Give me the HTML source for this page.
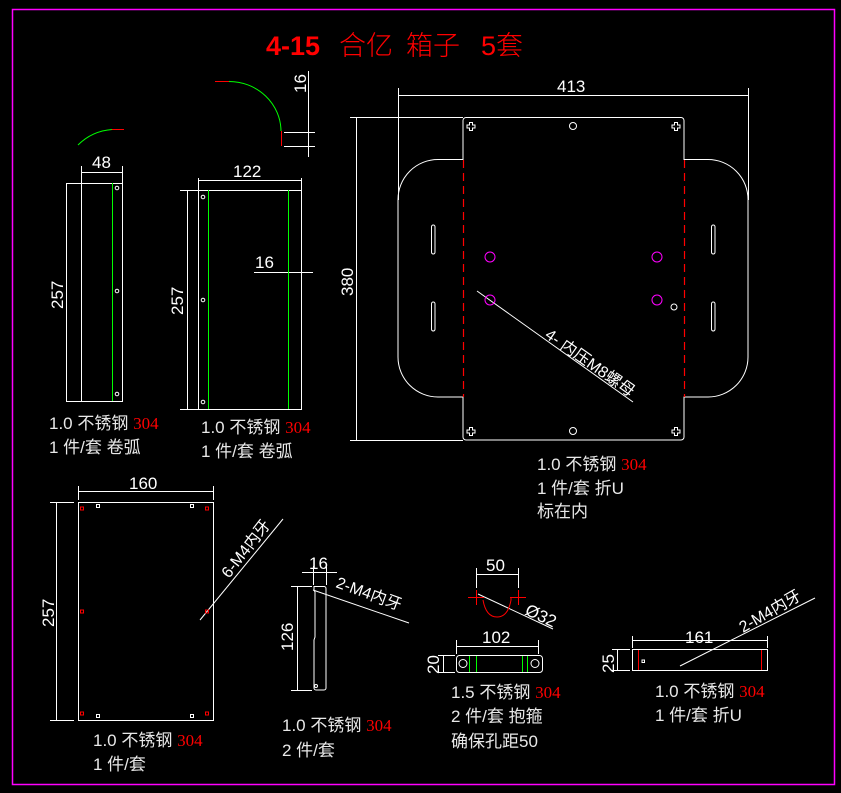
<!DOCTYPE html>
<html><head><meta charset="utf-8"><style>
html,body{margin:0;padding:0;background:#000;}
svg{display:block;}
text{font-family:"Liberation Sans","Noto Sans CJK SC",sans-serif;}
.d{fill:#fff;font-size:17px;}
.l{fill:#e8e8e8;font-size:17px;font-family:"Liberation Sans","Noto Sans CJK SC",sans-serif;}
.r{fill:#f00;font-family:"Liberation Serif",serif;}
</style></head><body>
<svg width="841" height="793" viewBox="0 0 841 793" xmlns="http://www.w3.org/2000/svg">
<rect x="0" y="0" width="841" height="793" fill="#000"/>
<rect x="12.5" y="9.5" width="822" height="775" fill="none" stroke="#f0f" stroke-width="1.5"/>
<g fill="#f00" font-size="27">
<text x="266" y="55" font-weight="bold">4-15</text>
<text x="339" y="55" font-family="Noto Sans CJK SC,sans-serif" font-weight="300">合亿</text>
<text x="406" y="55" font-family="Noto Sans CJK SC,sans-serif" font-weight="300">箱子</text>
<text x="481" y="55">5<tspan font-family="Noto Sans CJK SC,sans-serif" font-weight="300">套</tspan></text>
</g>

<g stroke="#fff" stroke-width="1" fill="none">
<rect x="81.5" y="183.5" width="41" height="218"/>
<line x1="66" y1="183.5" x2="81" y2="183.5"/><line x1="66" y1="401.5" x2="81" y2="401.5"/>
<line x1="66.5" y1="183" x2="66.5" y2="401"/>
<line x1="81.5" y1="166" x2="81.5" y2="183"/><line x1="122.5" y1="166" x2="122.5" y2="183"/>
<line x1="81" y1="172.5" x2="122" y2="172.5"/>
<circle cx="117" cy="188" r="1.8"/><circle cx="117" cy="291" r="1.8"/><circle cx="117" cy="394" r="1.8"/>
<rect x="198.5" y="190.5" width="103" height="219"/>
<line x1="180" y1="190.5" x2="198" y2="190.5"/><line x1="180" y1="409.5" x2="198" y2="409.5"/>
<line x1="187.5" y1="190" x2="187.5" y2="409"/>
<line x1="198.5" y1="178" x2="198.5" y2="190"/><line x1="301.5" y1="178" x2="301.5" y2="190"/>
<line x1="198" y1="180.5" x2="301" y2="180.5"/>
<line x1="254" y1="272.5" x2="313" y2="272.5"/>
<circle cx="203" cy="197" r="1.8"/><circle cx="203" cy="300" r="1.8"/><circle cx="203" cy="402" r="1.8"/>
<line x1="308.5" y1="71" x2="308.5" y2="157"/>
<line x1="284" y1="132.5" x2="315" y2="132.5"/><line x1="284" y1="146.5" x2="315" y2="146.5"/>
<path d="M466,117.5 H681 a3,3 0 0 1 3,3 V159.5 H708 a40,40 0 0 1 40,40 V357 a40,40 0 0 1 -40,40 H684 V437 a3,3 0 0 1 -3,3 H466 a3,3 0 0 1 -3,-3 V397 H438 a40,40 0 0 1 -40,-40 V199.5 a40,40 0 0 1 40,-40 H463 V120.5 a3,3 0 0 1 3,-3 Z"/>
<rect x="431.5" y="225" width="3.5" height="29" rx="1.7"/><rect x="431.5" y="302" width="3.5" height="29" rx="1.7"/>
<rect x="711.5" y="225" width="3.5" height="29" rx="1.7"/><rect x="711.5" y="302" width="3.5" height="29" rx="1.7"/>
<circle cx="573" cy="126" r="3.5"/><circle cx="573" cy="431" r="3.5"/><circle cx="674" cy="307" r="3"/>
<path d="M469.5,122.5 h3 v2.5 h2.5 v3 h-2.5 v2.5 h-3 v-2.5 h-2.5 v-3 h2.5 z"/>
<path d="M674.5,122.5 h3 v2.5 h2.5 v3 h-2.5 v2.5 h-3 v-2.5 h-2.5 v-3 h2.5 z"/>
<path d="M469.5,427.5 h3 v2.5 h2.5 v3 h-2.5 v2.5 h-3 v-2.5 h-2.5 v-3 h2.5 z"/>
<path d="M674.5,427.5 h3 v2.5 h2.5 v3 h-2.5 v2.5 h-3 v-2.5 h-2.5 v-3 h2.5 z"/>
<line x1="398.5" y1="88" x2="398.5" y2="200"/><line x1="748.5" y1="88" x2="748.5" y2="200"/>
<line x1="398" y1="95.5" x2="748" y2="95.5"/>
<line x1="350" y1="117.5" x2="463" y2="117.5"/><line x1="350" y1="440.5" x2="463" y2="440.5"/>
<line x1="356.5" y1="117" x2="356.5" y2="440"/>
<line x1="477" y1="291" x2="633" y2="402"/>
<rect x="78.5" y="502.5" width="135" height="218"/>
<line x1="50" y1="502.5" x2="74" y2="502.5"/><line x1="50" y1="720.5" x2="74" y2="720.5"/>
<line x1="56.5" y1="502" x2="56.5" y2="720"/>
<line x1="78.5" y1="486" x2="78.5" y2="500"/><line x1="213.5" y1="486" x2="213.5" y2="500"/>
<line x1="78" y1="491.5" x2="213" y2="491.5"/>
<rect x="96.5" y="504.5" width="3" height="3"/><rect x="190.5" y="504.5" width="3" height="3"/>
<rect x="96.5" y="714.5" width="3" height="3"/><rect x="190.5" y="714.5" width="3" height="3"/>
<line x1="200" y1="620" x2="283" y2="519"/>
<path d="M314,586.5 H324 a2,2 0 0 1 2,2 V688 a2,2 0 0 1 -2,2 H316 a2,2 0 0 1 -2,-2 V640 l1,-3 V592 l-1,-2 Z"/>
<circle cx="316" cy="686" r="1.5"/>
<line x1="291" y1="586.5" x2="312" y2="586.5"/><line x1="291" y1="690.5" x2="312" y2="690.5"/>
<line x1="297.5" y1="586" x2="297.5" y2="690"/>
<line x1="313.5" y1="566" x2="313.5" y2="585"/><line x1="326.5" y1="566" x2="326.5" y2="585"/>
<line x1="302" y1="572.5" x2="337" y2="572.5"/>
<line x1="313" y1="590" x2="409" y2="623"/>
<rect x="456.5" y="655.5" width="86" height="17" rx="3"/>
<circle cx="463" cy="663.5" r="4"/><circle cx="535" cy="663.5" r="4"/>
<line x1="456.5" y1="640" x2="456.5" y2="654"/><line x1="538.5" y1="640" x2="538.5" y2="654"/>
<line x1="457" y1="646.5" x2="538" y2="646.5"/>
<line x1="438" y1="655.5" x2="455" y2="655.5"/><line x1="438" y1="672.5" x2="455" y2="672.5"/>
<line x1="443.5" y1="655" x2="443.5" y2="672"/>
<line x1="476.5" y1="568" x2="476.5" y2="588"/><line x1="518.5" y1="568" x2="518.5" y2="588"/>
<line x1="476" y1="574.5" x2="518" y2="574.5"/>
<line x1="478" y1="594" x2="553" y2="629"/>
<rect x="632.5" y="649.5" width="135" height="21"/>
<rect x="642" y="660" width="2.5" height="2.5"/>
<line x1="632.5" y1="636" x2="632.5" y2="648"/><line x1="767.5" y1="636" x2="767.5" y2="648"/>
<line x1="632" y1="640.5" x2="767" y2="640.5"/>
<line x1="612" y1="649.5" x2="630" y2="649.5"/><line x1="612" y1="670.5" x2="630" y2="670.5"/>
<line x1="617.5" y1="649" x2="617.5" y2="670"/>
<line x1="680" y1="666" x2="815" y2="598"/>
</g>

<g fill="none" stroke-width="1">
<line x1="112.5" y1="183" x2="112.5" y2="401" stroke="#0f0"/>
<line x1="208.5" y1="190" x2="208.5" y2="409" stroke="#0f0"/>
<line x1="288.5" y1="190" x2="288.5" y2="409" stroke="#0f0"/>
<path d="M78,145 Q92,131 112,129.5" stroke="#0f0"/>
<line x1="112" y1="129.5" x2="124" y2="129.5" stroke="#f00"/>
<line x1="215" y1="81.5" x2="229" y2="81.5" stroke="#f00"/>
<path d="M229,81.5 A52,50 0 0 1 281,131" stroke="#0f0"/>
<line x1="281.5" y1="131" x2="281.5" y2="146" stroke="#f00"/>
<line x1="463.5" y1="160" x2="463.5" y2="397" stroke="#f00" stroke-width="1.2" stroke-dasharray="8,5"/>
<line x1="684.5" y1="160" x2="684.5" y2="397" stroke="#f00" stroke-width="1.2" stroke-dasharray="8,5"/>
<g stroke="#f0f"><circle cx="490" cy="257" r="5"/><circle cx="490" cy="300" r="5"/><circle cx="657" cy="257" r="5"/><circle cx="657" cy="300" r="5"/></g>
<g stroke="#f00"><rect x="80.5" y="507" width="3" height="3"/><rect x="205.5" y="507" width="3" height="3"/><rect x="80.5" y="610" width="3" height="3"/><rect x="205.5" y="610" width="3" height="3"/><rect x="80.5" y="712" width="3" height="3"/><rect x="205.5" y="712" width="3" height="3"/>
<line x1="638.5" y1="650" x2="638.5" y2="670"/><line x1="761.5" y1="650" x2="761.5" y2="670"/>
<path d="M468,597.5 h16 M476.5,590 v15 M510,597.5 h16 M518.5,590 v15"/>
<path d="M483,600 Q486,617 497,617 Q508,617 511,600 V597"/></g>
<g stroke="#0f0"><line x1="469.5" y1="656" x2="469.5" y2="672"/><line x1="476.5" y1="656" x2="476.5" y2="672"/><line x1="522.5" y1="656" x2="522.5" y2="672"/><line x1="527.5" y1="656" x2="527.5" y2="672"/></g>
</g>

<g class="d">
<text x="92" y="168">48</text>
<text x="233" y="177">122</text>
<text x="255" y="268">16</text>
<text transform="translate(63,309) rotate(-90)">257</text>
<text transform="translate(183,315) rotate(-90)">257</text>
<text transform="translate(306,93) rotate(-90)">16</text>
<text x="557" y="92">413</text>
<text transform="translate(353,296) rotate(-90)">380</text>
<text x="129" y="489">160</text>
<text transform="translate(54,627) rotate(-90)">257</text>
<text x="309" y="569">16</text>
<text transform="translate(293,651) rotate(-90)">126</text>
<text x="486" y="571">50</text>
<text x="482" y="643">102</text>
<text transform="translate(439,674) rotate(-90)">20</text>
<text x="685" y="643">161</text>
<text transform="translate(614,673) rotate(-90)">25</text>
<text transform="translate(524,614) rotate(25)">Ø32</text>
<text transform="translate(335,587) rotate(20)" font-size="16">2-M4内牙</text>
<text transform="translate(743,633) rotate(-30)" font-size="16">2-M4内牙</text>
<text transform="translate(229,579) rotate(-52)" font-size="16">6-M4内牙</text>
<text transform="translate(544,337) rotate(35)" font-size="16">4- 内压M8螺母</text>
</g>

<g class="l">
<text x="49" y="429">1.0 不锈钢  <tspan class="r">304</tspan></text>
<text x="49" y="453">1 件/套  卷弧</text>
<text x="201" y="433">1.0 不锈钢 <tspan class="r">304</tspan></text>
<text x="201" y="457">1 件/套  卷弧</text>
<text x="537" y="470">1.0 不锈钢 <tspan class="r">304</tspan></text>
<text x="537" y="494">1 件/套  折U</text>
<text x="537" y="517">标在内</text>
<text x="93" y="746">1.0 不锈钢 <tspan class="r">304</tspan></text>
<text x="93" y="770">1 件/套</text>
<text x="282" y="731">1.0 不锈钢 <tspan class="r">304</tspan></text>
<text x="282" y="756">2 件/套</text>
<text x="451" y="698">1.5 不锈钢  <tspan class="r">304</tspan></text>
<text x="451" y="722">2 件/套  抱箍</text>
<text x="451" y="747">确保孔距50</text>
<text x="655" y="697">1.0 不锈钢  <tspan class="r">304</tspan></text>
<text x="655" y="721">1 件/套  折U</text>
</g>
</svg>
</body></html>
